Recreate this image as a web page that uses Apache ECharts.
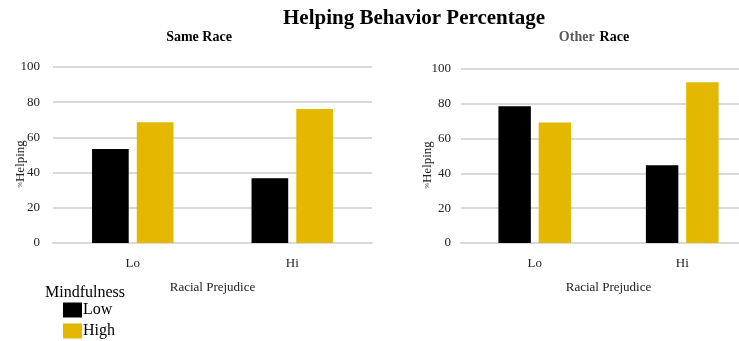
<!DOCTYPE html>
<html>
<head>
<meta charset="utf-8">
<script src="https://cdn.jsdelivr.net/npm/echarts@6/dist/echarts.min.js"></script>
<style>html,body{margin:0;padding:0;background:#fff}#c{width:739px;height:341px}</style>
</head>
<body>
<div id="c"></div>
<script>
const categories = ['Lo', 'Hi'];
const sameLow = [53.4, 36.8];
const sameHigh = [68.6, 76.1];
const otherLow = [78.6, 44.7];
const otherHigh = [69.2, 92.4];
const seriesNames = ['Low', 'High'];
const yTicks = { min: 0, max: 100, interval: 20 };

const FONT = '"Liberation Serif", "Times New Roman", serif';
const BLACK = '#000000';
const GOLD = '#E5B800';
const GRID = '#D9D9D9';

function yAxis(gi, labelMargin, nameGap) {
  return {
    type: 'value', gridIndex: gi, min: yTicks.min, max: yTicks.max, interval: yTicks.interval,
    axisLine: { show: false }, axisTick: { show: false },
    splitLine: { lineStyle: { color: GRID, width: 2 } },
    axisLabel: { margin: labelMargin, color: '#222', fontFamily: FONT, fontSize: 13 },
    name: '{p|%}{h|Helping}', nameLocation: 'middle', nameGap: nameGap, nameRotate: 90,
    nameMoveOverlap: false,
    nameTextStyle: {
      padding: [0, 18, 0, 0],
      rich: {
        p: { fontFamily: FONT, fontSize: 7, color: '#333' },
        h: { fontFamily: FONT, fontSize: 13, color: '#222' }
      }
    }
  };
}
function xAxis(gi) {
  return {
    type: 'category', gridIndex: gi, data: categories,
    axisLine: { lineStyle: { color: GRID, width: 2 } }, axisTick: { show: false },
    axisLabel: { margin: 14, color: '#222', fontFamily: FONT, fontSize: 13 },
    name: 'Racial Prejudice', nameLocation: 'middle', nameGap: 38, nameMoveOverlap: false,
    nameTextStyle: { fontFamily: FONT, fontSize: 13, color: '#222' }
  };
}
function bar(name, data, gi, color, w, gap) {
  return {
    name: name, type: 'bar', xAxisIndex: gi, yAxisIndex: gi, data: data,
    barWidth: w, barGap: gap, itemStyle: { color: color }, silent: true
  };
}

const chart = echarts.init(document.getElementById('c'), null, { renderer: 'canvas' });
chart.setOption({
  animation: false,
  backgroundColor: '#fff',
  title: [
    { text: 'Helping Behavior Percentage', left: 278, top: 3,
      textStyle: { fontFamily: FONT, fontSize: 21, fontWeight: 'bold', color: '#000' } },
    { text: 'Same Race', left: 194, top: 25, textAlign: 'center',
      textStyle: { fontFamily: FONT, fontSize: 14, fontWeight: 'bold', color: '#000' } },
    { text: '{g|Other} {b|Race}', left: 589, top: 23, textAlign: 'center',
      textStyle: { rich: {
        g: { fontFamily: FONT, fontSize: 14, fontWeight: 'bold', color: '#595959' },
        b: { fontFamily: FONT, fontSize: 14, fontWeight: 'bold', color: '#000' } } } },
    { text: 'Mindfulness', left: 40, top: 280,
      textStyle: { fontFamily: FONT, fontSize: 16, fontWeight: 'normal', color: '#000' } }
  ],
  legend: {
    data: seriesNames, orient: 'vertical', left: 63, top: 302, padding: 0,
    itemWidth: 19, itemHeight: 15, itemGap: 5, icon: 'rect',
    textStyle: { fontFamily: FONT, fontSize: 16, color: '#000', padding: [0, 0, 0, -4] }
  },
  grid: [
    { left: 53, top: 67, width: 319, height: 176, containLabel: false, outerBoundsMode: 'none' },
    { left: 461, top: 69, width: 295, height: 174, containLabel: false, outerBoundsMode: 'none' }
  ],
  xAxis: [xAxis(0), xAxis(1)],
  yAxis: [yAxis(0, 13, 26), yAxis(1, 10, 27)],
  series: [
    bar(seriesNames[0], sameLow, 0, BLACK, '23%', '22%'),
    bar(seriesNames[1], sameHigh, 0, GOLD, '23%', '22%'),
    bar(seriesNames[0], otherLow, 1, BLACK, '22%', '24%'),
    bar(seriesNames[1], otherHigh, 1, GOLD, '22%', '24%')
  ]
});
</script>
</body>
</html>
